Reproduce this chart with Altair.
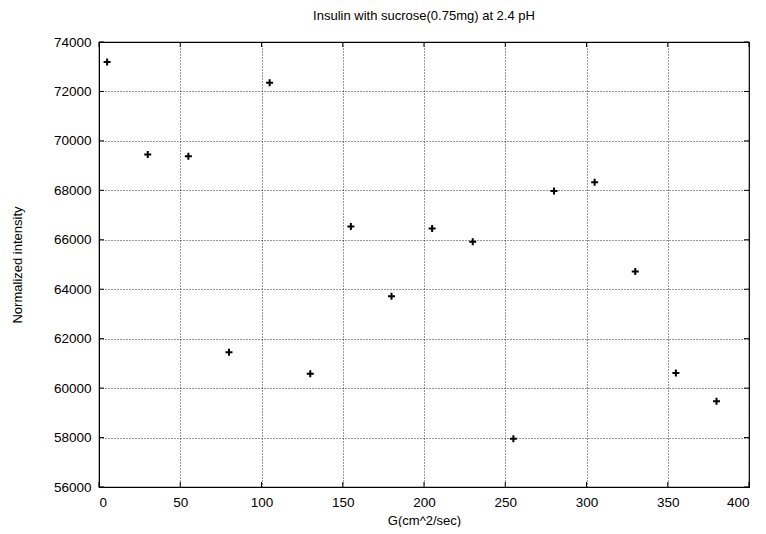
import altair as alt
import pandas as pd

g_values = [5, 30, 55, 80, 105, 130, 155, 180, 205, 230, 255, 280, 305, 330, 355, 380]
intensity = [73190, 69450, 69380, 61450, 72350, 60580, 66540, 63720,
             66460, 65920, 57950, 67970, 68330, 64720, 60610, 59470]

x_ticks = [0, 50, 100, 150, 200, 250, 300, 350, 400]
y_ticks = [56000, 58000, 60000, 62000, 64000, 66000, 68000, 70000, 72000, 74000]

df = pd.DataFrame({"G": g_values, "I": intensity})
dfx = pd.DataFrame({"G": x_ticks})
dfy = pd.DataFrame({"I": y_ticks})

FONT = "Liberation Sans"
W, H, TL = 650, 445, 5

xscale = alt.Scale(domain=[0, 400], nice=False)
yscale = alt.Scale(domain=[56000, 74000], nice=False, zero=False)

points = alt.Chart(df).mark_point(
    shape="M-1,0L1,0M0,-1L0,1",
    size=49,
    stroke="black",
    strokeWidth=2,
    opacity=1,
    filled=False,
).encode(
    x=alt.X("G:Q", scale=xscale,
            axis=alt.Axis(values=x_ticks, title="G(cm^2/sec)", format="d")),
    y=alt.Y("I:Q", scale=yscale,
            axis=alt.Axis(values=y_ticks, title="Normalized intensity", format="d")),
)

tick_style = dict(color="black", strokeWidth=1)
bottom_ticks = alt.Chart(dfx).mark_rule(**tick_style).encode(
    x=alt.X("G:Q", scale=xscale), y=alt.value(H), y2=alt.value(H - TL))
top_ticks = alt.Chart(dfx).mark_rule(**tick_style).encode(
    x=alt.X("G:Q", scale=xscale), y=alt.value(0), y2=alt.value(TL))
left_ticks = alt.Chart(dfy).mark_rule(**tick_style).encode(
    y=alt.Y("I:Q", scale=yscale), x=alt.value(0), x2=alt.value(TL))
right_ticks = alt.Chart(dfy).mark_rule(**tick_style).encode(
    y=alt.Y("I:Q", scale=yscale), x=alt.value(W), x2=alt.value(W - TL))

chart = alt.layer(points, bottom_ticks, top_ticks, left_ticks, right_ticks).properties(
    width=W,
    height=H,
    title=alt.Title("Insulin with sucrose(0.75mg) at 2.4 pH", font=FONT, fontSize=13,
                    fontWeight="normal", color="black", offset=12),
    autosize=alt.AutoSizeParams(type="none"),
    padding={"left": 91, "top": 34, "right": 9, "bottom": 40},
).configure_view(
    stroke="black", strokeWidth=1.2
).configure_axis(
    labelFont=FONT, labelFontSize=13.5, labelColor="black",
    titleFont=FONT, titleFontSize=13, titleFontWeight="normal", titleColor="black",
    grid=True, gridColor="black", gridDash=[1, 2], gridOpacity=0.8, gridWidth=1,
    domainColor="black", ticks=False, labelPadding=8,
).configure_axisX(
    titlePadding=6,
).configure_axisY(
    titlePadding=29,
)

chart.save("out.html", embed_options={"renderer": "svg", "actions": False})
